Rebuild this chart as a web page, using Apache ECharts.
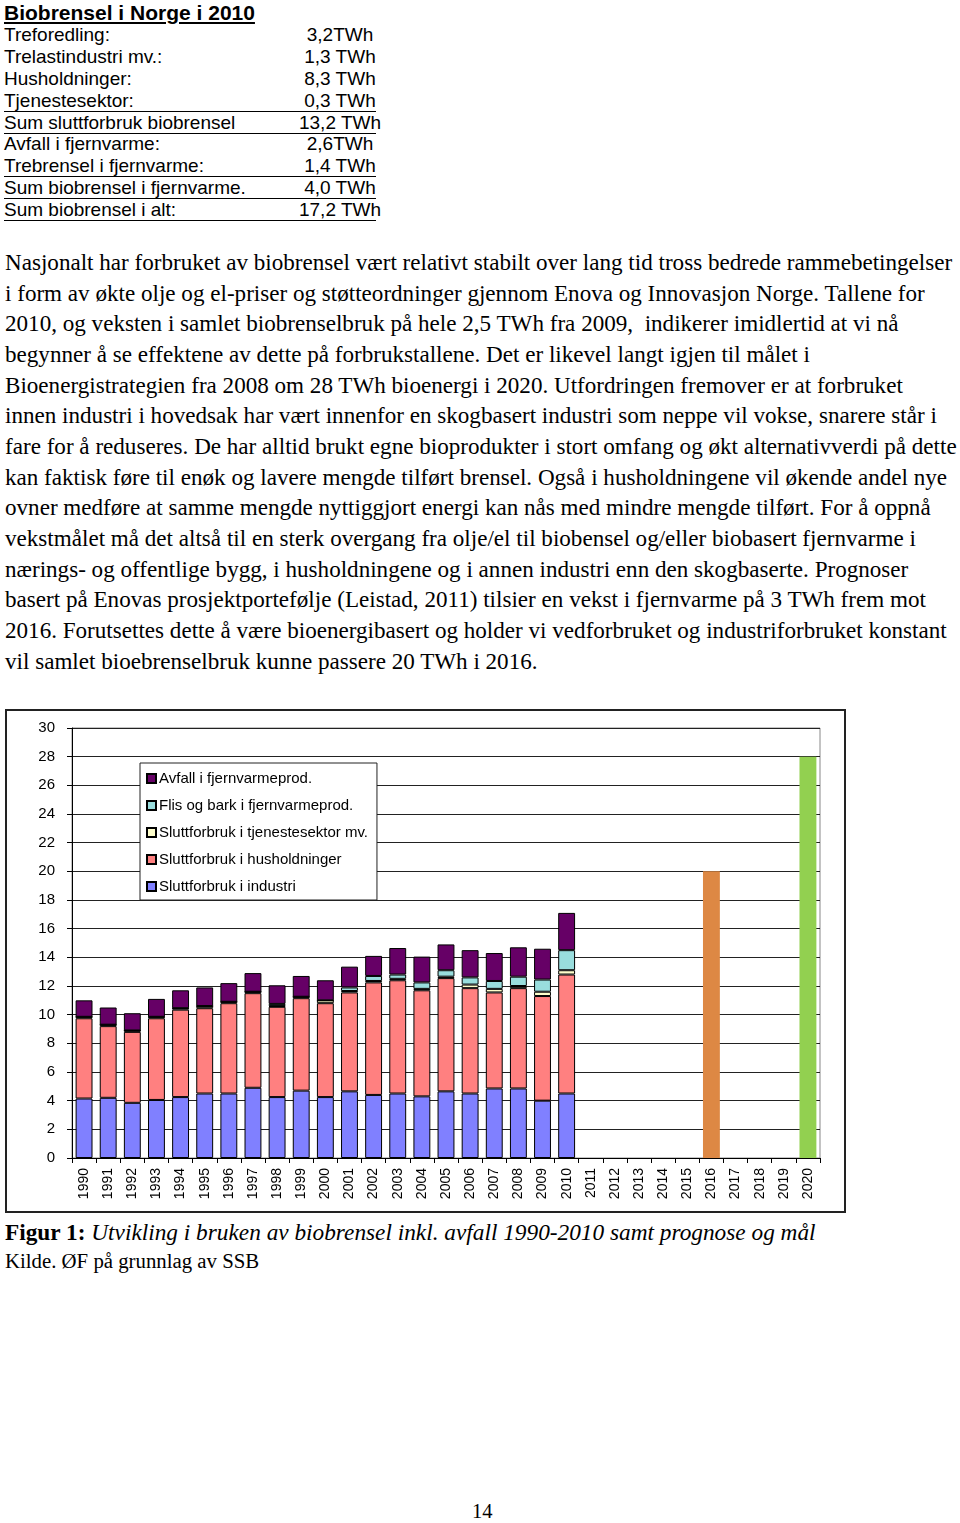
<!DOCTYPE html>
<html>
<head>
<meta charset="utf-8">
<script src="https://cdn.jsdelivr.net/npm/echarts@6/dist/echarts.min.js"></script>
<style>
  html, body { margin:0; padding:0; background:#fff; }
  body { width:960px; height:1523px; position:relative; overflow:hidden; color:#000; }
  .sans { font-family: "Liberation Sans", Arial, sans-serif; }
  .serif { font-family: "Liberation Serif", "Times New Roman", serif; }
  #title { position:absolute; left:4px; top:1px; font-size:21px; font-weight:bold; text-decoration:underline; line-height:24px; white-space:nowrap; }
  .row { position:absolute; left:4px; width:372px; height:22px; line-height:22px; font-size:19px; white-space:nowrap; box-sizing:border-box; }
  .row.ul { border-bottom:1px solid #000; }
  .row .v { position:absolute; left:282px; width:108px; text-align:center; }
  #para { position:absolute; left:5px; top:247px; font-size:23.1px; line-height:30.65px; white-space:nowrap; }
  #chartbox { position:absolute; left:5px; top:709px; width:841px; height:504px; box-sizing:border-box; border:2px solid #222; }
  #chart { width:837px; height:500px; }
  #caption { position:absolute; left:5px; top:1218px; font-size:23.3px; line-height:28px; white-space:nowrap; }
  #source { position:absolute; left:5px; top:1248px; font-size:20.8px; line-height:26px; white-space:nowrap; }
  #page { position:absolute; left:472px; top:1499px; font-size:20.5px; line-height:24px; }
</style>
</head>
<body>
<div id="title" class="sans">Biobrensel i Norge i 2010</div>
<div id="table" class="sans"></div>
<div id="para" class="serif">
Nasjonalt har forbruket av biobrensel vært relativt stabilt over lang tid tross bedrede rammebetingelser<br>
i form av økte olje og el-priser og støtteordninger gjennom Enova og Innovasjon Norge. Tallene for<br>
2010, og veksten i samlet biobrenselbruk på hele 2,5 TWh fra 2009,&nbsp; indikerer imidlertid at vi nå<br>
begynner å se effektene av dette på forbrukstallene. Det er likevel langt igjen til målet i<br>
Bioenergistrategien fra 2008 om 28 TWh bioenergi i 2020. Utfordringen fremover er at forbruket<br>
innen industri i hovedsak har vært innenfor en skogbasert industri som neppe vil vokse, snarere står i<br>
fare for å reduseres. De har alltid brukt egne bioprodukter i stort omfang og økt alternativverdi på dette<br>
kan faktisk føre til enøk og lavere mengde tilført brensel. Også i husholdningene vil økende andel nye<br>
ovner medføre at samme mengde nyttiggjort energi kan nås med mindre mengde tilført. For å oppnå<br>
vekstmålet må det altså til en sterk overgang fra olje/el til biobensel og/eller biobasert fjernvarme i<br>
nærings- og offentlige bygg, i husholdningene og i annen industri enn den skogbaserte. Prognoser<br>
basert på Enovas prosjektportefølje (Leistad, 2011) tilsier en vekst i fjernvarme på 3 TWh frem mot<br>
2016. Forutsettes dette å være bioenergibasert og holder vi vedforbruket og industriforbruket konstant<br>
vil samlet bioebrenselbruk kunne passere 20 TWh i 2016.
</div>
<div id="chartbox"><div id="chart"></div></div>
<div id="caption" class="serif"><b>Figur 1:</b> <i>Utvikling i bruken av biobrensel inkl. avfall 1990-2010 samt prognose og mål</i></div>
<div id="source" class="serif">Kilde. ØF på grunnlag av SSB</div>
<div id="page" class="serif">14</div>
<script>
// ---- Table data ----
const tableLabels = ["Treforedling:", "Trelastindustri mv.:", "Husholdninger:", "Tjenestesektor:", "Sum sluttforbruk biobrensel", "Avfall i fjernvarme:", "Trebrensel i fjernvarme:", "Sum biobrensel i fjernvarme.", "Sum biobrensel i alt:"];
const tableValues = ["3,2TWh", "1,3 TWh", "8,3 TWh", "0,3 TWh", "13,2 TWh", "2,6TWh", "1,4 TWh", "4,0 TWh", "17,2 TWh"];
const tableUnderlined = [false, false, false, true, true, false, true, true, true];

// ---- Chart data ----
const years = ["1990","1991","1992","1993","1994","1995","1996","1997","1998","1999","2000","2001","2002","2003","2004","2005","2006","2007","2008","2009","2010","2011","2012","2013","2014","2015","2016","2017","2018","2019","2020"];
const industri =      [4.15, 4.2, 3.85, 4.05, 4.25, 4.5, 4.5, 4.9, 4.25, 4.7, 4.25, 4.65, 4.4, 4.5, 4.3, 4.65, 4.5, 4.85, 4.85, 4.0, 4.5];
const husholdninger = [5.6, 5.0, 4.95, 5.7, 6.1, 5.95, 6.3, 6.6, 6.3, 6.45, 6.55, 6.9, 7.85, 7.9, 7.4, 7.9, 7.35, 6.7, 7.0, 7.3, 8.3];
const tjeneste =      [0.1, 0.1, 0.1, 0.1, 0.1, 0.15, 0.1, 0.1, 0.05, 0.1, 0.2, 0.1, 0.1, 0.1, 0.1, 0.1, 0.25, 0.25, 0.15, 0.3, 0.3];
const flis =          [0, 0, 0, 0, 0, 0, 0, 0, 0.15, 0, 0, 0.25, 0.35, 0.3, 0.45, 0.45, 0.5, 0.55, 0.65, 0.85, 1.4];
const avfall =        [1.15, 1.2, 1.2, 1.25, 1.25, 1.3, 1.3, 1.3, 1.3, 1.45, 1.4, 1.45, 1.4, 1.85, 1.8, 1.8, 1.9, 1.95, 2.05, 2.15, 2.6];
const prognoseYear = "2016", prognoseValue = 20;
const maalYear = "2020", maalValue = 28;
const yTicks = [0, 2, 4, 6, 8, 10, 12, 14, 16, 18, 20, 22, 24, 26, 28, 30];

// ---- Build table ----
const rowCenters = [35, 57, 79, 100.5, 122.5, 144.3, 166, 188, 210];
const tbl = document.getElementById('table');
tableLabels.forEach((lab, i) => {
  const d = document.createElement('div');
  d.className = 'row' + (tableUnderlined[i] ? ' ul' : '');
  d.style.top = (rowCenters[i] - 11) + 'px';
  d.textContent = lab;
  const v = document.createElement('span');
  v.className = 'v';
  v.textContent = tableValues[i];
  d.appendChild(v);
  tbl.appendChild(d);
});

// ---- Chart ----
const pad = arr => years.map((y, i) => (i < arr.length ? arr[i] : '-'));
const single = (yr, val) => years.map(y => (y === yr ? val : '-'));
const border = { borderColor: '#000', borderWidth: 1 };
const chart = echarts.init(document.getElementById('chart'), null, { renderer: 'canvas' });
const names = ['Sluttforbruk i industri', 'Sluttforbruk i husholdninger', 'Sluttforbruk i tjenestesektor mv.', 'Flis og bark i fjernvarmeprod.', 'Avfall i fjernvarmeprod.'];
const cols = ['#8080ff', '#ff8080', '#ffffcc', '#99dddd', '#660066'];
const vals = [industri, husholdninger, tjeneste, flis, avfall];
const series = names.map((n, k) => ({
  name: n, type: 'bar', stack: 'a', barWidth: '70%',
  data: pad(vals[k]),
  itemStyle: Object.assign({ color: cols[k] }, border),
  emphasis: { disabled: true }
}));
series.push({ name: 'Prognose', type: 'bar', stack: 'a', barWidth: '70%', data: single(prognoseYear, prognoseValue), itemStyle: { color: '#dd8844', borderWidth: 0 } });
series.push({ name: 'Mål', type: 'bar', stack: 'a', barWidth: '70%', data: single(maalYear, maalValue), itemStyle: { color: '#92d050', borderWidth: 0 } });

chart.setOption({
  animation: false,
  textStyle: { fontFamily: 'Liberation Sans, Arial, sans-serif' },
  grid: { left: 65, top: 17, right: 24, bottom: 53, show: true, borderColor: '#888', borderWidth: 1 },
  legend: {
    data: names.slice().reverse(),
    orient: 'vertical', left: 133, top: 52,
    backgroundColor: '#fff', borderColor: '#222', borderWidth: 1,
    padding: [8, 9, 6, 6],
    icon: 'rect', itemWidth: 9, itemHeight: 9, itemGap: 12,
    selectedMode: false,
    textStyle: { fontSize: 15, color: '#000', lineHeight: 15, padding: [0, 0, 0, -2] }
  },
  xAxis: {
    type: 'category', data: years,
    axisLine: { lineStyle: { color: '#000', width: 1 } },
    axisTick: { show: true, alignWithLabel: false, length: 5, lineStyle: { color: '#000' } },
    axisLabel: { rotate: 90, fontSize: 14, color: '#000', margin: 10, interval: 0 },
    splitLine: { show: false }
  },
  yAxis: {
    type: 'value', min: yTicks[0], max: yTicks[yTicks.length - 1], interval: yTicks[1] - yTicks[0],
    axisLine: { show: true, lineStyle: { color: '#000', width: 1 } },
    axisTick: { show: true, length: 5, lineStyle: { color: '#000' } },
    axisLabel: { fontSize: 15, color: '#000', margin: 17 },
    splitLine: { show: true, lineStyle: { color: '#222', width: 1 } }
  },
  series: series
});
</script>
</body>
</html>
